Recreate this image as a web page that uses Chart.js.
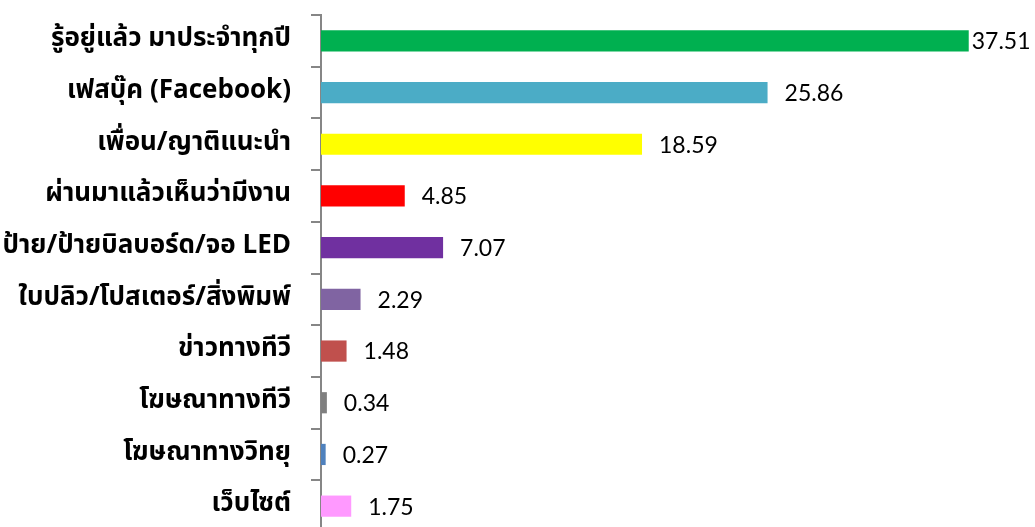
<!DOCTYPE html>
<html>
<head>
  <meta charset="UTF-8">
  <title>ช่องทางการรับรู้</title>
  <script src="https://cdn.jsdelivr.net/npm/chart.js"></script>
  <style>
    html, body { margin: 0; padding: 0; background: #fff; overflow: hidden; }
    #wrap { position: relative; width: 1035px; height: 537px; }
  </style>
</head>
<body>
  <div id="wrap"><canvas id="chart"></canvas></div>

  <script>
  // ข้อมูล (%)
  const categories = [
    'รู้อยู่แล้ว มาประจำทุกปี',
    'เฟสบุ๊ค (Facebook)',
    'เพื่อน/ญาติแนะนำ',
    'ผ่านมาแล้วเห็นว่ามีงาน',
    'ป้าย/ป้ายบิลบอร์ด/จอ LED',
    'ใบปลิว/โปสเตอร์/สิ่งพิมพ์',
    'ข่าวทางทีวี',
    'โฆษณาทางทีวี',
    'โฆษณาทางวิทยุ',
    'เว็บไซต์'
  ];
  const values = [37.51, 25.86, 18.59, 4.85, 7.07, 2.29, 1.48, 0.34, 0.27, 1.75];
  const barColors = ['#00B050', '#4BACC6', '#FFFF00', '#FF0000', '#7030A0',
                     '#8064A2', '#C0504D', '#7F7F7F', '#4F81BD', '#FF99FF'];

  const valueLabels = {
    id: 'valueLabels',
    afterDatasetsDraw(chart) {
      const ctx = chart.ctx;
      const meta = chart.getDatasetMeta(0);
      ctx.save();
      ctx.font = '23px Lato, Carlito, Calibri, sans-serif';
      ctx.fillStyle = '#000';
      ctx.textBaseline = 'middle';
      meta.data.forEach((bar, i) => {
        const txt = values[i].toFixed(2);
        const w = ctx.measureText(txt).width;
        let x = bar.x + 17;
        if (x + w > chart.width - 3) x = bar.x + 3;
        ctx.fillText(txt, x, bar.y + 1);
      });
      ctx.restore();
    }
  };

  new Chart(document.getElementById('chart'), {
    type: 'bar',
    data: {
      labels: categories,
      datasets: [{
        data: values,
        backgroundColor: barColors,
        borderWidth: 0,
        categoryPercentage: 1,
        barPercentage: 0.41
      }]
    },
    options: {
      indexAxis: 'y',
      responsive: true,
      maintainAspectRatio: false,
      animation: false,
      layout: { padding: { top: 15, right: 6, bottom: 5, left: 0 } },
      plugins: { legend: { display: false }, tooltip: { enabled: false } },
      scales: {
        x: { display: false, min: 0, max: 41 },
        y: {
          afterFit(scale) {
            scale.width = 321;
            scale.paddingTop = 0;
            scale.paddingBottom = 0;
          },
          border: { color: '#868686', width: 2 },
          grid: { drawOnChartArea: false, tickLength: 10, color: '#868686', lineWidth: 2, offset: true },
          ticks: {
            padding: 20,
            color: '#000',
            font: { size: 26, weight: 'bold', family: 'Tahoma, "Noto Sans Thai", "Noto Sans", sans-serif' }
          }
        }
      }
    },
    plugins: [valueLabels]
  });
  </script>
</body>
</html>
